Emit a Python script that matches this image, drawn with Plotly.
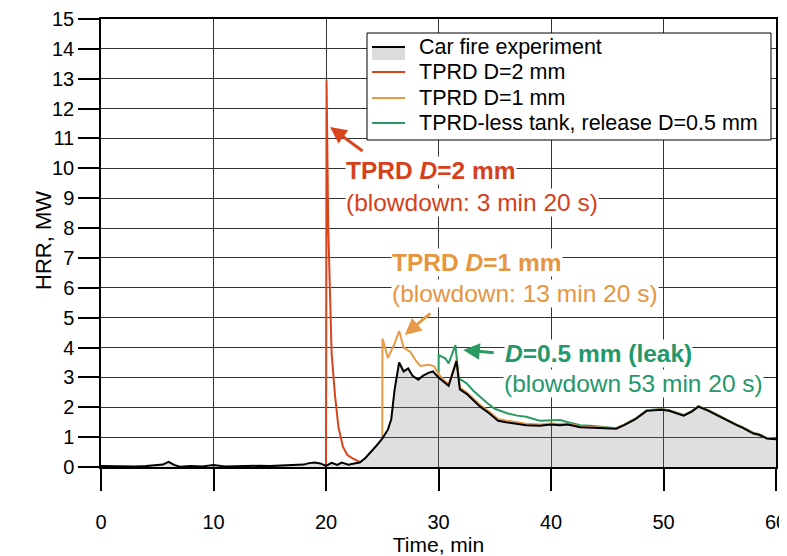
import plotly.graph_objects as go

# ---------------- data ----------------
exp_t = [0, 1, 2, 3, 4, 5, 5.5, 6, 6.5, 7, 8, 9, 10, 11, 12, 13, 14, 15, 16, 17, 18, 18.5, 19, 19.5,
         20, 20.5, 21, 21.4, 22, 22.5, 23, 23.5, 24, 24.5, 25, 25.5, 25.8, 26.1, 26.5, 26.9, 27.3,
         27.7, 28.2, 28.6, 29.1, 29.5, 30, 30.5, 30.9, 31.6, 31.9, 32.5, 33.2, 33.7, 34.5, 35.3,
         36, 36.8, 37.8, 39, 40, 40.8, 41.5, 42.6, 43.5, 44.5, 45.8, 46.5, 47.5, 48.5, 49.8, 50.5,
         51.8, 52.5, 53.1, 54, 55, 55.6, 56.5, 57, 58, 58.5, 59.2, 60]
exp_hrr = [0.03, 0.02, 0.03, 0.02, 0.03, 0.05, 0.08, 0.17, 0.07, 0.01, 0.03, 0.02, 0.07, 0.02, 0.03,
           0.02, 0.04, 0.03, 0.05, 0.05, 0.08, 0.13, 0.15, 0.12, 0.04, 0.14, 0.07, 0.15, 0.08, 0.12,
           0.15, 0.3, 0.5, 0.72, 0.95, 1.25, 1.6, 2.6, 3.5, 3.2, 3.3, 3.05, 2.92, 3.05, 3.15, 3.2,
           3.0, 2.85, 2.72, 3.55, 2.6, 2.45, 2.2, 2.02, 1.8, 1.55, 1.5, 1.45, 1.4, 1.38, 1.42, 1.4,
           1.42, 1.33, 1.32, 1.3, 1.28, 1.4, 1.6, 1.88, 1.92, 1.88, 1.72, 1.85, 2.02, 1.88, 1.68,
           1.56, 1.4, 1.32, 1.12, 1.08, 0.95, 0.93]

d2_t = [20, 20.05, 20.2, 20.5, 20.8, 21.1, 21.5, 21.9, 22.4, 23]
d2_hrr = [0.04, 12.95, 8.0, 3.8, 2.4, 1.35, 0.68, 0.4, 0.28, 0.17]

d1_t = [25, 25.02, 25.5, 26, 26.5, 26.9, 27.5, 28, 28.4, 29.1, 29.6, 30, 30.5, 30.9, 31.6, 31.9,
        32.5, 33.2, 33.7, 34.5, 35.3, 36, 36.8, 37.8, 39, 40, 40.8, 41.5, 42.6, 43.5, 44.5, 45.8,
        46.5, 47.5, 48.5, 49.8, 50.5, 51.8, 52.5, 53.1, 54, 55, 55.6, 56.5, 57, 58, 58.5, 59.2, 60]
d1_hrr = [1.0, 4.3, 3.65, 4.05, 4.55, 4.0, 3.85, 3.55, 3.38, 3.42, 3.38, 3.12, 2.9, 2.78, 3.57, 2.66,
          2.5, 2.27, 2.08, 1.86, 1.61, 1.56, 1.5, 1.45, 1.42, 1.46, 1.44, 1.45, 1.36, 1.35, 1.32, 1.3,
          1.41, 1.61, 1.89, 1.93, 1.89, 1.73, 1.86, 2.03, 1.89, 1.69, 1.57, 1.41, 1.33, 1.13, 1.09,
          0.96, 0.94]

d05_t = [30, 30.02, 30.6, 30.9, 31.5, 31.8, 32.5, 33.1, 33.7, 34.3, 35, 36.1, 37, 37.8, 39, 39.9,
         40.8, 41.5, 42.6, 43.5, 44.5, 45.8, 46.5, 47.5, 48.5, 49.8, 50.5, 51.8, 52.5, 53.1, 54, 55,
         55.6, 56.5, 57, 58, 58.5, 59.2, 60]
d05_hrr = [2.97, 3.75, 3.64, 3.47, 4.08, 2.97, 2.8, 2.55, 2.35, 2.15, 1.95, 1.8, 1.72, 1.68, 1.55,
           1.55, 1.57, 1.5, 1.4, 1.38, 1.35, 1.3, 1.42, 1.62, 1.9, 1.94, 1.9, 1.74, 1.87, 2.04, 1.9,
           1.7, 1.58, 1.42, 1.34, 1.14, 1.1, 0.97, 0.95]

x_ticks = [0, 10, 20, 30, 40, 50, 60]
y_ticks = list(range(0, 16))

legend_names = ["Car fire experiment", "TPRD D=2 mm", "TPRD D=1 mm",
                "TPRD-less tank, release D=0.5 mm"]

RED = "#d9441c"
ORANGE = "#e89a48"
GREEN = "#2a9a62"
RED_T = "#d6401a"
ORANGE_T = "#e6963f"
GREEN_T = "#23986a"
FILL = "rgba(120,120,120,0.24)"
FONT = "Arial, Liberation Sans, sans-serif"

fig = go.Figure()
fig.add_trace(go.Scatter(x=d05_t, y=d05_hrr, mode="lines", name=legend_names[3],
                         line=dict(color=GREEN, width=2), showlegend=False))
fig.add_trace(go.Scatter(x=d1_t, y=d1_hrr, mode="lines", name=legend_names[2],
                         line=dict(color=ORANGE, width=2), showlegend=False))
fig.add_trace(go.Scatter(x=d2_t, y=d2_hrr, mode="lines", name=legend_names[1],
                         line=dict(color=RED, width=2), showlegend=False))
fig.add_trace(go.Scatter(x=exp_t, y=exp_hrr, mode="lines", name=legend_names[0],
                         line=dict(color="black", width=2), fill="tozeroy",
                         fillcolor=FILL, showlegend=False))

# screen-pixel frame of the plot area (page has an 8px body margin)
OFF = 8
W, H = 787 - OFF, 556 - OFF
PX0, PX1, PY0, PY1 = 101, 776, 467, 19


def px(xp):
    return (xp - PX0) / (PX1 - PX0)


def py(yp):
    return (PY0 - yp) / (PY0 - PY1)


texts = [
    ("<b>TPRD <i>D</i>=2 mm</b>", 345, 170, RED_T),
    ("(blowdown: 3 min 20 s)", 345, 202, RED_T),
    ("<b>TPRD <i>D</i>=1 mm</b>", 391, 262, ORANGE_T),
    ("(blowdown: 13 min 20 s)", 391, 293, ORANGE_T),
    ("<b><i>D</i>=0.5 mm (leak)</b>", 504, 353, GREEN_T),
    ("(blowdown 53 min 20 s)", 503, 383, GREEN_T),
]
annotations = []
for txt, x0, y0, col in texts:
    annotations.append(dict(text=txt, xref="paper", yref="paper", x=px(x0), y=py(y0),
                            xanchor="left", yanchor="middle", showarrow=False,
                            bgcolor="white", borderpad=0,
                            font=dict(family=FONT, size=24.5, color=col)))

arrows = [
    (20.36, 11.38, 34, 25, RED),
    (27.0, 4.42, 27, -23, ORANGE),
    (32.2, 3.92, 32, 3, GREEN),
]
for xa, ya, axp, ayp, col in arrows:
    annotations.append(dict(text="", x=xa, y=ya, xref="x", yref="y", ax=axp, ay=ayp,
                            showarrow=True, arrowhead=2, arrowsize=1.1, arrowwidth=3,
                            arrowcolor=col, standoff=0))

# y-axis title
annotations.append(dict(text="HRR, MW", xref="paper", yref="paper", x=px(43), y=py(241),
                        xanchor="center", yanchor="middle", showarrow=False, textangle=-90,
                        font=dict(family=FONT, size=22, color="black")))

# ---------------- manual legend ----------------
LEG_L, LEG_R, LEG_T, LEG_B = 367, 771, 33, 140
row_y = [47, 72, 98, 123]
leg_colors = ["black", RED, ORANGE, GREEN]
shapes = [dict(type="rect", xref="paper", yref="paper", x0=px(LEG_L), x1=px(LEG_R),
               y0=py(LEG_B), y1=py(LEG_T), fillcolor="white",
               line=dict(color="black", width=1), layer="above")]
shapes.append(dict(type="rect", xref="paper", yref="paper", x0=px(372), x1=px(405),
                   y0=py(60), y1=py(48), fillcolor="#dcdcdc", line=dict(width=0),
                   layer="above"))
for yy, col in zip(row_y, leg_colors):
    shapes.append(dict(type="line", xref="paper", yref="paper", x0=px(372), x1=px(405),
                       y0=py(yy), y1=py(yy), line=dict(color=col, width=2), layer="above"))
for yy, name in zip(row_y, legend_names):
    annotations.append(dict(text=name, xref="paper", yref="paper", x=px(417), y=py(yy),
                            xanchor="left", yanchor="middle", showarrow=False,
                            font=dict(family=FONT, size=21.5, color="black")))

fig.update_layout(
    width=W, height=H,
    margin=dict(l=PX0 - OFF, r=787 - PX1, t=PY1 - OFF, b=556 - PY0, autoexpand=False),
    paper_bgcolor="white", plot_bgcolor="white",
    font=dict(family=FONT, color="black"),
    showlegend=False,
    annotations=annotations,
    shapes=shapes,
)
fig.update_xaxes(range=[0, 60], tickvals=x_ticks, ticktext=[str(v) for v in x_ticks],
                 showgrid=True, gridcolor="#333333", gridwidth=1, automargin=False,
                 showline=True, linecolor="black", linewidth=1.5, mirror=True,
                 ticks="outside", ticklen=22, tickcolor="black", tickwidth=1.5,
                 ticklabelstandoff=14, ticklabeloverflow="allow", zeroline=False,
                 tickfont=dict(size=20, family=FONT, color="black"),
                 title=dict(text="Time, min", font=dict(size=21, family=FONT, color="black"),
                            standoff=2))
fig.update_yaxes(range=[0, 15], tickvals=y_ticks, ticktext=[str(v) for v in y_ticks],
                 showgrid=True, gridcolor="#333333", gridwidth=1, automargin=False,
                 showline=True, linecolor="black", linewidth=1.5, mirror=True,
                 ticks="outside", ticklen=21, tickcolor="black", tickwidth=1.5,
                 ticklabeloverflow="allow", zeroline=False,
                 tickfont=dict(size=20, family=FONT, color="black"))

fig.write_html("out.html")
